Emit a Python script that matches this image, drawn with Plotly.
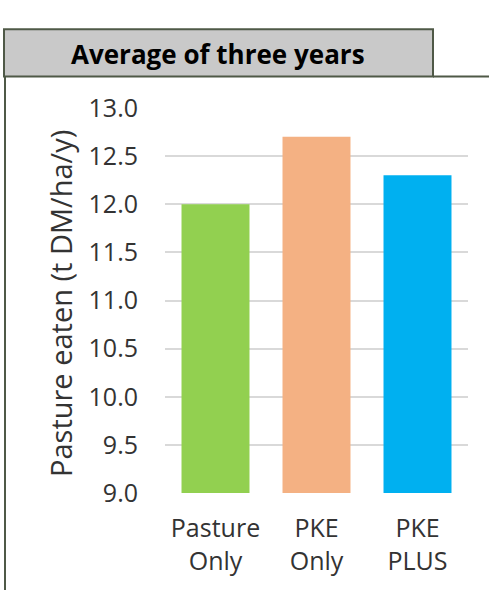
import plotly.graph_objects as go

# ---- data ----
categories = ["Pasture Only", "PKE Only", "PKE PLUS"]
category_labels = ["Pasture<br>Only", "PKE<br>Only", "PKE<br>PLUS"]
values = [12.0, 12.7, 12.3]
bar_colors = ["#92d050", "#f4b183", "#00b0f0"]
y_tick_vals = [9.0, 9.5, 10.0, 10.5, 11.0, 11.5, 12.0, 12.5, 13.0]
y_tick_text = ["9.0", "9.5", "10.0", "10.5", "11.0", "11.5", "12.0", "12.5", "13.0"]
chart_title = "Average of three years"
y_title = "Pasture eaten (t DM/ha/y)"

# ---- layout helpers (pixel -> paper) ----
W, H = 489, 606
def px(x):
    return x / W
def py(y):
    return 1 - y / H

FONT = "Open Sans"
TXT = "#333333"
FRAME = "#4f5947"

fig = go.Figure(
    go.Bar(
        x=categories,
        y=values,
        marker=dict(color=bar_colors, line=dict(width=0)),
        hoverinfo="skip",
    )
)

fig.update_layout(
    width=W,
    height=H,
    margin=dict(l=0, r=0, t=0, b=0),
    paper_bgcolor="white",
    plot_bgcolor="white",
    bargap=0.327,
    showlegend=False,
    font=dict(family=FONT, color=TXT),
    xaxis=dict(
        domain=[px(165), px(468)],
        tickvals=categories,
        ticktext=category_labels,
        tickfont=dict(family=FONT, size=25, color=TXT),
        ticks="",
        ticklabelstandoff=18,
        showgrid=False,
        showline=False,
        zeroline=False,
        fixedrange=True,
    ),
    yaxis=dict(
        domain=[py(503.3), py(95.3)],
        range=[9, 13],
        tickvals=y_tick_vals,
        ticktext=y_tick_text,
        tickfont=dict(family=FONT, size=25, color=TXT),
        showgrid=True,
        gridcolor="#d9d9d9",
        gridwidth=1.5,
        zeroline=False,
        showline=False,
        ticks="",
        ticklabelstandoff=26,
        fixedrange=True,
    ),
)

shapes = [
    # title box
    dict(type="rect", xref="paper", yref="paper",
         x0=px(4), x1=px(433), y0=py(62), y1=py(12),
         fillcolor="#c9c9c9", line=dict(color=FRAME, width=2), layer="below"),
    # line to the right of the title box
    dict(type="line", xref="paper", yref="paper",
         x0=px(433), x1=px(489), y0=py(62), y1=py(62),
         line=dict(color=FRAME, width=2)),
    # left frame line
    dict(type="line", xref="paper", yref="paper",
         x0=px(5), x1=px(5), y0=py(62), y1=py(606),
         line=dict(color=FRAME, width=2)),
]
fig.update_layout(shapes=shapes)

annotations = [
    dict(text="<b>" + chart_title + "</b>", xref="paper", yref="paper",
         x=px(218), y=py(38), xanchor="center", yanchor="middle",
         showarrow=False, font=dict(family=FONT, size=26, color="black")),
    dict(text=y_title, xref="paper", yref="paper",
         x=px(60), y=py(303), xanchor="center", yanchor="middle",
         textangle=-90, showarrow=False,
         font=dict(family=FONT, size=29, color=TXT)),
]
fig.update_layout(annotations=annotations)

fig.write_html("out.html", config={"displayModeBar": False},
               post_script="document.body.style.margin='0';")
